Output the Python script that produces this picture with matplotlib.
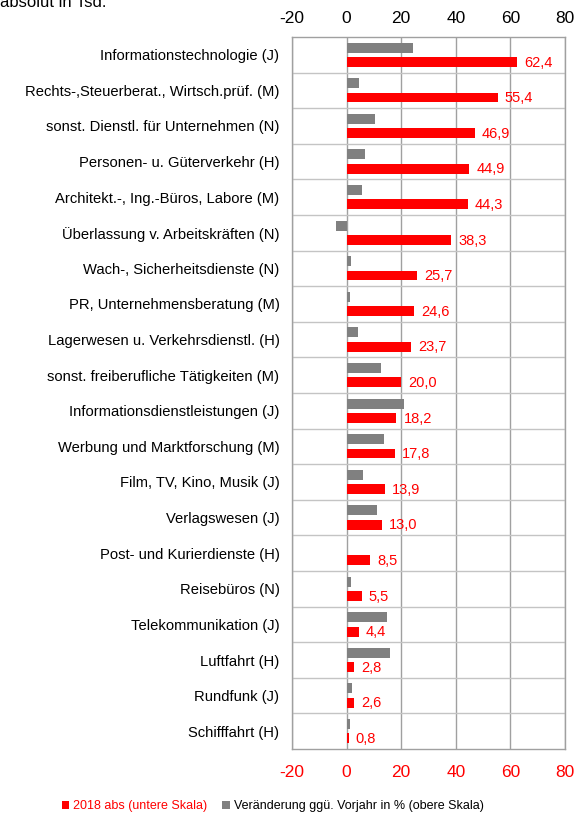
import numpy as np
import matplotlib
matplotlib.use("Agg")
import matplotlib.pyplot as plt
from matplotlib.patches import Patch

plt.rcParams['font.family'] = ['Liberation Sans', 'DejaVu Sans']

# data
branchen = ["Informationstechnologie (J)", "Rechts-,Steuerberat., Wirtsch.prüf. (M)",
            "sonst. Dienstl. für Unternehmen (N)", "Personen- u. Güterverkehr (H)",
            "Architekt.-, Ing.-Büros, Labore (M)", "Überlassung v. Arbeitskräften (N)",
            "Wach-, Sicherheitsdienste (N)", "PR, Unternehmensberatung (M)",
            "Lagerwesen u. Verkehrsdienstl. (H)", "sonst. freiberufliche Tätigkeiten (M)",
            "Informationsdienstleistungen (J)", "Werbung und Marktforschung (M)",
            "Film, TV, Kino, Musik (J)", "Verlagswesen (J)", "Post- und Kurierdienste (H)",
            "Reisebüros (N)", "Telekommunikation (J)", "Luftfahrt (H)", "Rundfunk (J)",
            "Schifffahrt (H)"]
abs_2018 = [62.4, 55.4, 46.9, 44.9, 44.3, 38.3, 25.7, 24.6, 23.7, 20.0,
            18.2, 17.8, 13.9, 13.0, 8.5, 5.5, 4.4, 2.8, 2.6, 0.8]
veraenderung = [24.4, 4.6, 10.4, 6.6, 5.5, -3.7, 1.5, 1.1, 4.3, 12.7,
                20.9, 13.8, 5.9, 11.0, 0.2, 1.5, 14.8, 15.9, 1.8, 1.1]
ticks = [-20, 0, 20, 40, 60, 80]

rot = "#ff0000"
grau = "#808080"
linie = "#a0a0a0"

fig = plt.figure(figsize=(5.74, 8.16), dpi=100)
ax = fig.add_axes([0.5087, 0.0821, 0.4756, 0.8726])

y = np.arange(len(branchen))
h = 0.28
ax.barh(y - 0.2, veraenderung, height=h, color=grau, zorder=3)
ax.barh(y + 0.2, abs_2018, height=h, color=rot, zorder=3)

for yi, v in zip(y, abs_2018):
    ax.text(v + 2.6, yi + 0.22, f"{v:.1f}".replace(".", ","), color=rot,
            fontsize=10.5, va="center", ha="left", zorder=4)

ax.set_xlim(-20, 80)
ax.set_ylim(len(branchen) - 0.5, -0.5)
ax.set_xticks(ticks)
ax.set_xticklabels([str(t) for t in ticks], color=rot, fontsize=12.5)
ax.set_yticks(y)
ax.set_yticklabels(branchen, fontsize=10.65)
ax.tick_params(axis="both", length=0)
ax.tick_params(axis="x", pad=11.5)
ax.tick_params(axis="y", pad=9)
ax.set_yticks(y[:-1] + 0.5, minor=True)
ax.tick_params(axis="y", which="minor", length=0)
ax.grid(axis="x", color=linie, linewidth=1, zorder=1)
ax.grid(axis="y", which="minor", color="#c4c4c4", linewidth=1, zorder=1)
for s in ax.spines.values():
    s.set_color(linie)
    s.set_linewidth(1)

oben = ax.twiny()
oben.set_xlim(ax.get_xlim())
oben.set_xticks(ticks)
oben.set_xticklabels([str(t) for t in ticks], color="black", fontsize=12.5)
oben.tick_params(axis="x", length=0, pad=8)
for s in oben.spines.values():
    s.set_visible(False)

fig.text(0.0, 1 - 7 / 816, "absolut in Tsd.", fontsize=12, va="baseline", ha="left")

handles = [Patch(facecolor=rot), Patch(facecolor=grau)]
leg = fig.legend(handles, ["2018 abs (untere Skala)", "Veränderung ggü. Vorjahr in % (obere Skala)"],
                 loc="center", bbox_to_anchor=(0.475, 1 - 806 / 816), ncol=2, frameon=False,
                 fontsize=9, handlelength=0.6, handleheight=0.6, handletextpad=0.3,
                 columnspacing=1.2)
leg.get_texts()[0].set_color(rot)

fig.savefig("out.png", dpi=100)
